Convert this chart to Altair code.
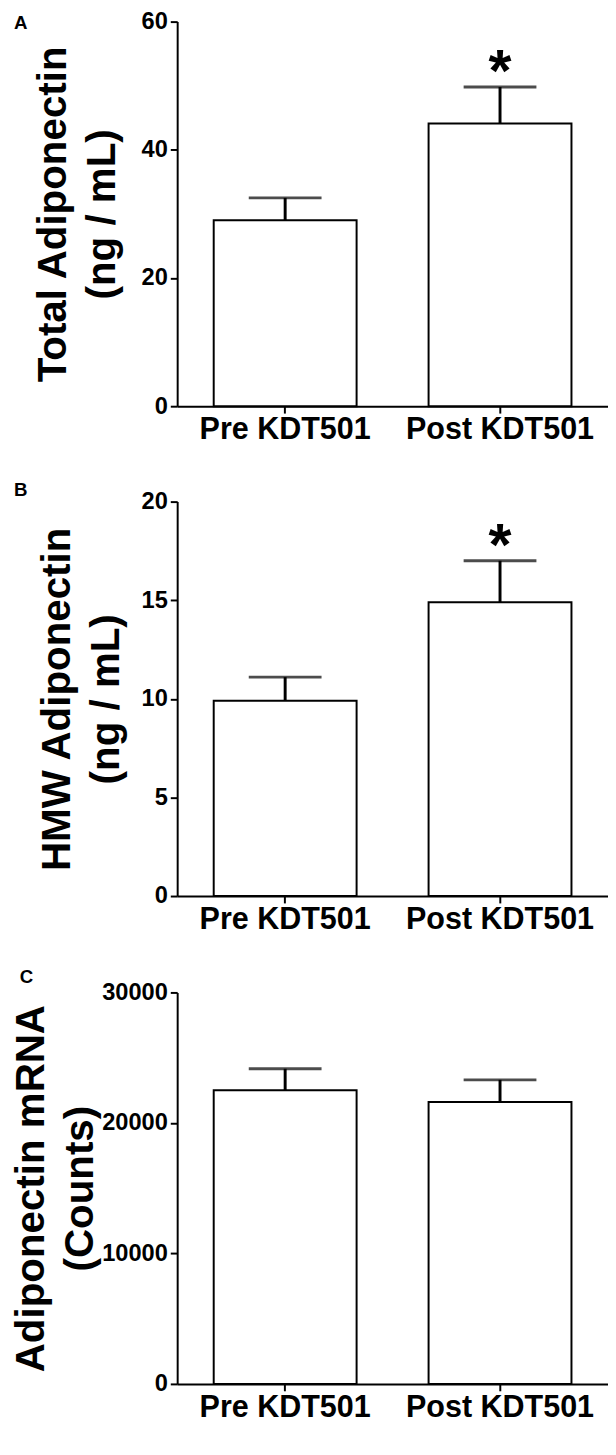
import altair as alt
import pandas as pd

groups = ["Pre KDT501", "Post KDT501"]
sig = ["", "*"]

total_mean = [29.0, 44.1]
total_sem = [3.5, 5.7]

hmw_mean = [9.9, 14.9]
hmw_sem = [1.2, 2.1]

mrna_mean = [22500, 21600]
mrna_sem = [1650, 1700]
mrna_sig = ["", ""]

panel_letters = ["A", "B", "C"]
titles = [["Total Adiponectin", "(ng / mL)"],
          ["HMW Adiponectin", "(ng / mL)"],
          ["Adiponectin mRNA", "(Counts)"]]
y_max = [60, 20, 30000]
y_ticks = [[0, 20, 40, 60], [0, 5, 10, 15, 20], [0, 10000, 20000, 30000]]

FONT = "Liberation Sans"


def panel(mean, sem, stars, letter, title, ymax, ticks, letter_x, letter_y, height, tpad):
    df = pd.DataFrame({"group": groups, "mean": mean, "sem": sem, "sig": stars})
    df["upper"] = df["mean"] + df["sem"]
    x = alt.X("group:N", sort=groups, title=None,
              scale=alt.Scale(paddingInner=0.335, paddingOuter=0.17),
              axis=alt.Axis(labelAngle=0, labelFontSize=31, labelFontWeight="bold",
                            labelFont=FONT, labelColor="black", labelPadding=2,
                            labelLimit=400,
                            tickSize=7, tickWidth=2, tickColor="black",
                            domainColor="black", domainWidth=2))
    yscale = alt.Scale(domain=[0, ymax], nice=False)
    yaxis = alt.Axis(values=ticks, format="d", grid=False, title=title,
                     titleFontSize=41, titleFontWeight="bold", titleFont=FONT,
                     titleColor="black", titleLineHeight=50, titlePadding=tpad,
                     labelFontSize=24, labelFontWeight="bold", labelFont=FONT,
                     labelColor="black", labelPadding=3,
                     tickSize=7, tickWidth=2, tickColor="black",
                     domainColor="black", domainWidth=2)
    base = alt.Chart(df)
    bars = base.mark_bar(fill="white", stroke="black", strokeWidth=2).encode(
        x=x, y=alt.Y("mean:Q", scale=yscale, axis=yaxis))
    stem = base.mark_rule(color="black", strokeWidth=3).encode(
        x=alt.X("group:N", sort=groups), y="mean:Q", y2="upper:Q")
    cap = base.mark_tick(color="black", thickness=3, size=74).encode(
        x=alt.X("group:N", sort=groups), y="upper:Q")
    star = base.mark_text(fontSize=60, fontWeight="bold", font=FONT, color="black",
                          baseline="alphabetic", dy=4).encode(
        x=alt.X("group:N", sort=groups), y="upper:Q", text="sig:N")
    lab = alt.Chart(pd.DataFrame({"t": [letter]})).mark_text(
        fontSize=19, fontWeight="bold", font=FONT, color="black",
        align="left", baseline="alphabetic").encode(
        x=alt.value(letter_x), y=alt.value(letter_y), text="t:N")
    return alt.layer(bars, stem, cap, star, lab).properties(width=438, height=height)


pA = panel(total_mean, total_sem, sig, panel_letters[0], titles[0], y_max[0], y_ticks[0], -166, 8, 391, 18)
pB = panel(hmw_mean, hmw_sem, sig, panel_letters[1], titles[1], y_max[1], y_ticks[1], -166, -6, 401, 14)
pC = panel(mrna_mean, mrna_sem, mrna_sig, panel_letters[2], titles[2], y_max[2], y_ticks[2], -160, -10, 398, 0)

chart = alt.vconcat(alt.vconcat(pA, pB, spacing=37), pC, spacing=34).properties(
    padding={"top": -10, "left": 3, "right": 0, "bottom": -5},
    background="white"
).configure_view(stroke=None)

chart.save("out.html", embed_options={"renderer": "svg", "actions": False})
